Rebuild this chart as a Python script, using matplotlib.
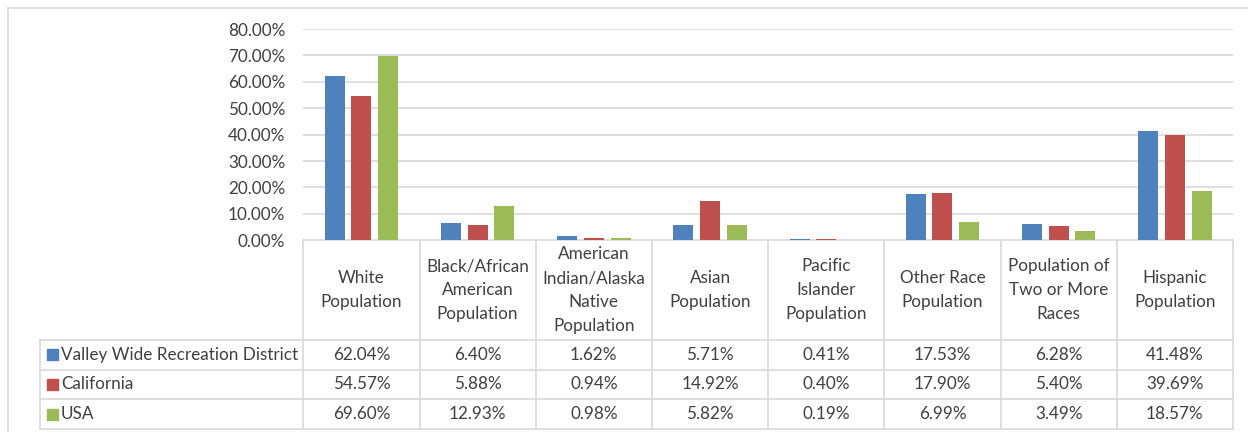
import matplotlib
matplotlib.use("Agg")
import matplotlib.pyplot as plt
from matplotlib.ticker import FuncFormatter
from matplotlib.patches import Rectangle
import numpy as np

FS = 12.3
matplotlib.rcParams.update({"font.family": "Lato", "font.size": FS})

# ── Datos ─────────────────────────────────────────────────────────────────────
categories = ["White\nPopulation", "Black/African\nAmerican\nPopulation",
              "American\nIndian/Alaska\nNative\nPopulation", "Asian\nPopulation",
              "Pacific\nIslander\nPopulation", "Other Race\nPopulation",
              "Population of\nTwo or More\nRaces", "Hispanic\nPopulation"]
series_names = ["Valley Wide Recreation District", "California", "USA"]
valley = [62.04, 6.40, 1.62, 5.71, 0.41, 17.53, 6.28, 41.48]
california = [54.57, 5.88, 0.94, 14.92, 0.40, 17.90, 5.40, 39.69]
usa = [69.60, 12.93, 0.98, 5.82, 0.19, 6.99, 3.49, 18.57]
y_ticks = [0, 10, 20, 30, 40, 50, 60, 70, 80]

COLORS = ["#4F81BD", "#C0504D", "#9BBB59"]
GRID = "#D9D9D9"
TXT = "#404040"

W, H = 1248, 432
fig = plt.figure(figsize=(W / 100, H / 100), dpi=100)

# area del grafico en pixeles
PL, PR, PT, PB = 303.3, 1233.0, 29.0, 240.3
ax = fig.add_axes([PL / W, 1 - PB / H, (PR - PL) / W, (PB - PT) / H])
n = len(categories)
x = np.arange(n)
bw, step = 0.172, 0.23
for k, vals in enumerate([valley, california, usa]):
    ax.bar(x + (k - 1) * step, np.array(vals) / 100, width=bw,
           color=COLORS[k], zorder=3)

ax.set_xlim(-0.5, n - 0.5)
ax.set_ylim(0, 0.8)
ax.set_yticks([t / 100 for t in y_ticks])
ax.yaxis.set_major_formatter(FuncFormatter(lambda v, p: f"{v * 100:.2f}%"))
ax.tick_params(axis="y", length=0, pad=13, colors=TXT, labelsize=FS)
ax.set_xticks([])
ax.grid(axis="y", color=GRID, linewidth=1.2, zorder=0)
for s in ax.spines.values():
    s.set_visible(False)

# ── Tabla de datos (overlay en pixeles, x alineado con categorias) ──────────
colw = (PR - PL) / n
tax = fig.add_axes([0, 0, 1, 1], zorder=-1)
tax.set_xlim(-0.5 - PL / colw, -0.5 + (W - PL) / colw)
tax.set_ylim(H, 0)
tax.axis("off")

def px(xp):
    return -0.5 + (xp - PL) / colw

# marco exterior
tax.plot([px(7.5), px(7.5)], [H + 5, 7.5], color=GRID, lw=1.2)
tax.plot([px(7.5), px(W + 5)], [7.5, 7.5], color=GRID, lw=1.2)

rows_y = [340, 369.5, 399.2, 428.8]
hdr_top = PB
left = px(40)
tax.plot([-0.5, n - 0.5], [hdr_top, hdr_top], color=GRID, lw=1.2)
for yy in rows_y:
    tax.plot([left, n - 0.5], [yy, yy], color=GRID, lw=1.2)
for i in range(n + 1):
    tax.plot([i - 0.5, i - 0.5], [hdr_top, rows_y[-1]], color=GRID, lw=1.2)
tax.plot([left, left], [rows_y[0], rows_y[-1]], color=GRID, lw=1.2)

# encabezados
for i, c in enumerate(categories):
    tax.text(i, (hdr_top + rows_y[0]) / 2, c, ha="center", va="center",
             color=TXT, fontsize=FS, linespacing=1.62)

# filas
sq = 11 / colw
for r, (name, vals) in enumerate(zip(series_names, [valley, california, usa])):
    yc = (rows_y[r] + rows_y[r + 1]) / 2
    tax.add_patch(Rectangle((px(47), yc - 5.5), sq, 11, color=COLORS[r]))
    tax.text(px(61), yc, name, ha="left", va="center", color=TXT, fontsize=FS)
    for i, v in enumerate(vals):
        tax.text(i, yc, f"{v:.2f}%", ha="center", va="center", color=TXT,
                 fontsize=FS)

fig.savefig("out.png", dpi=100)
plt.close(fig)
